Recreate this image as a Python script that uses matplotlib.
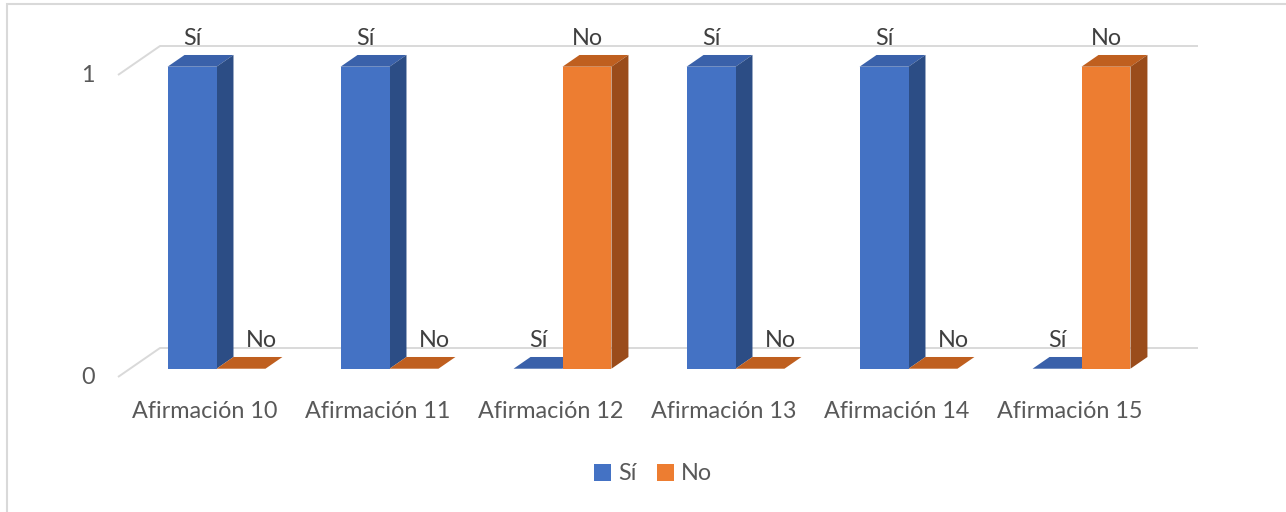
import matplotlib
matplotlib.use("Agg")
import matplotlib.pyplot as plt
from matplotlib.patches import Polygon, Rectangle, Patch

plt.rcParams["font.family"] = ["Lato", "DejaVu Sans"]

categories = ["Afirmación 10", "Afirmación 11", "Afirmación 12",
              "Afirmación 13", "Afirmación 14", "Afirmación 15"]
series_names = ["Sí", "No"]
si_values = [1, 1, 0, 1, 1, 0]
no_values = [0, 0, 1, 0, 0, 1]
y_ticks = [0, 1]

# face colours: front, top, side
BLUE = ("#4472C4", "#3A61AA", "#2C4D85")
ORANGE = ("#ED7D31", "#BF5F1F", "#9A4C1B")
GRID = "#D9D9D9"
TXT = "#595959"
FS = 16.8

W, H = 1286, 512
fig = plt.figure(figsize=(W / 100, H / 100), dpi=100)
ax = fig.add_axes([118 / W, 135 / H, 1038 / W, 302 / H])
ax.set_xlim(-0.5, len(categories) - 0.5)
ax.set_ylim(0, 1)
ax.axis("off")

# oblique depth of the floor, in data units
DX, DY = 42 / 173, 29 / 302
F0, F1 = 0.286, 0.69          # front / back of the bars inside the floor depth
BW = 0.283                    # bar width


def shift(x, y, f):
    return (x + f * DX, y + f * DY)


# gridlines: short slanted piece on the wall, then the back line
for v in y_ticks:
    x0, x1 = -0.5, len(categories) - 0.5
    ax.plot([x0, x0 + DX, x1 + DX], [v, v + DY, v + DY], color=GRID, lw=1.4,
            clip_on=False, zorder=1, solid_capstyle="butt")
    ax.text(x0 - 0.173, v, str(v), ha="center", va="center", fontsize=FS,
            color=TXT)


def bar3d(x0, v, cols, z):
    front, top, side = cols
    x1 = x0 + BW
    poly_top = [shift(x0, v, F0), shift(x1, v, F0), shift(x1, v, F1), shift(x0, v, F1)]
    ax.add_patch(Polygon(poly_top, closed=True, fc=top, ec="none", zorder=z, clip_on=False))
    if v > 0:
        poly_side = [shift(x1, 0, F0), shift(x1, v, F0), shift(x1, v, F1), shift(x1, 0, F1)]
        ax.add_patch(Polygon(poly_side, closed=True, fc=side, ec="none", zorder=z, clip_on=False))
        fx, fy = shift(x0, 0, F0)
        ax.add_patch(Rectangle((fx, fy), BW, v, fc=front, ec="none", zorder=z + 0.5,
                               clip_on=False))


z = 2
for i, cat in enumerate(categories):
    for s, (vals, cols, name) in enumerate([(si_values, BLUE, "Sí"), (no_values, ORANGE, "No")]):
        v = vals[i]
        x0 = i - BW + s * BW
        bar3d(x0, v, cols, z)
        z += 1
        cx, _ = shift(x0 + BW / 2, 0, F0)
        if name == "No" and v == 0:
            cx += 0.12
        ax.text(cx, v + 0.1225, name, ha="center", va="center", fontsize=FS,
                color="#404040", zorder=50)
    ax.text(i, -0.113, cat, ha="center", va="center", fontsize=FS, color=TXT)

handles = [Patch(fc=BLUE[0], ec="none"), Patch(fc=ORANGE[0], ec="none")]
fig.legend(handles, series_names, loc="center", bbox_to_anchor=(653 / W, 1 - 474 / H),
           ncol=2, frameon=False, fontsize=FS, handlelength=0.72, handleheight=0.72,
           handletextpad=0.3, columnspacing=0.9, labelcolor=TXT)

# chart-area border
fig.patches.append(Rectangle((7 / W, -0.1), 1.2, 1.1 - 4 / H, transform=fig.transFigure,
                             fill=False, ec=GRID, lw=1.5))

fig.savefig("out.png", dpi=100)
